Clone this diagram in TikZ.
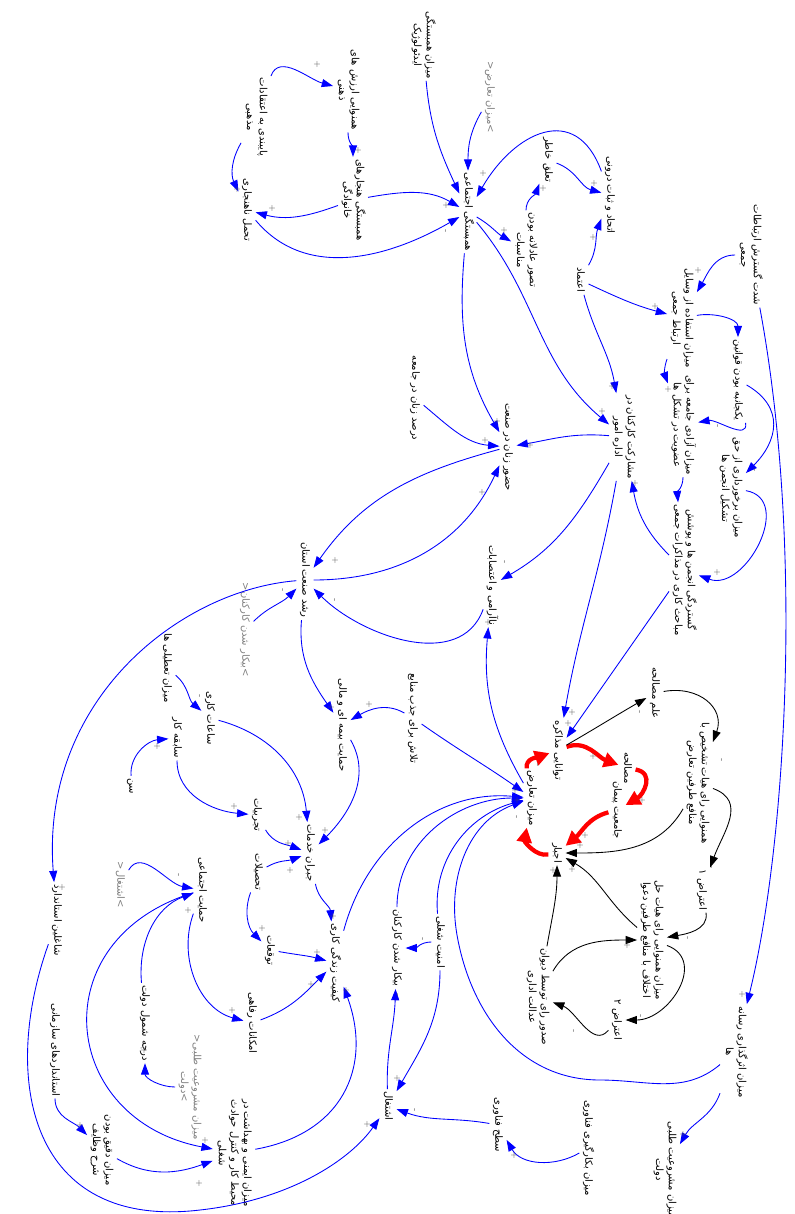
\documentclass[tikz,border=0pt]{standalone}
\usepackage{fontspec}
\usepackage{graphicx}
\usetikzlibrary{arrows.meta}
\newfontfamily\arabicfont[Script=Arabic]{DejaVu Sans}
\TeXXeTstate=1
\newcommand{\fl}[1]{\beginR #1\endR}
\newcommand{\vtxt}[1]{\rotatebox{-90}{\begin{tabular}{@{}c@{}}#1\end{tabular}}}
\newcommand{\ppl}[2]{\node[pol] (#1) at (#2) {+};}
\newcommand{\pmn}[2]{\node[pol] (#1) at (#2) {\rotatebox{90}{-}};}
\begin{document}
\begin{tikzpicture}[x=0.75pt,y=0.75pt,
  var/.style={inner sep=1.5pt,font=\arabicfont\fontsize{7.5}{9.5}\selectfont},
  shadow/.style={var,text=gray},
  pol/.style={inner sep=0pt,font=\fontsize{6}{6}\selectfont,text=black!70},
  lnk/.style={draw=blue,line width=0.65pt,-{Triangle[length=8.5pt,width=6pt]}},
  blk/.style={draw=black,line width=0.65pt,-{Triangle[length=8.5pt,width=6pt]}},
  rlnk/.style={draw=red,line width=3.2pt,-{Triangle[length=11pt,width=11pt]}}]
\useasboundingbox (0,0) rectangle (795,-1214);
% ---------- nodes ----------
\node[var] (ideo) at (423,-45) {\vtxt{\fl{میزان همبستگی}\\\fl{ایدئولوژیک}}};
\node[var] (zehni) at (348,-90) {\vtxt{\fl{همنوایی ارزش های}\\\fl{ذهنی}}};
\node[var] (mazhabi) at (256,-117) {\vtxt{\fl{پایبندی به اعتقادات}\\\fl{مذهبی}}};
\node[var] (khanevadegi) at (353,-200) {\vtxt{\fl{همبستگی هنجارهای}\\\fl{خانوادگی}}};
\node[var] (tahammol) at (247,-210) {\vtxt{\fl{تحمل ناهنجاری}}};
\node[var] (hambastegi) at (468,-212) {\vtxt{\fl{همبستگی اجتماعی}}};
\node[shadow] (tarazsh) at (490,-97) {\vtxt{<\fl{میزان تعارض}>}};
\node[var] (monasebat) at (526,-250) {\vtxt{\fl{تصور عادلانه بودن}\\\fl{مناسبات}}};
\node[var] (taalogh) at (548,-160) {\vtxt{\fl{تعلق خاطر}}};
\node[var] (ettehad) at (610,-195) {\vtxt{\fl{اتحاد و ثبات درونی}}};
\node[var] (etemad) at (580,-280) {\vtxt{\fl{اعتماد}}};
\node[var] (shedat) at (750,-255) {\vtxt{\fl{شدت گسترش ارتباطات}\\\fl{جمعی}}};
\node[var] (vasayel) at (682,-318) {\vtxt{\fl{میزان استفاده از وسایل}\\\fl{ارتباط جمعی}}};
\node[var] (yekjanebe) at (738,-380) {\vtxt{\fl{یکجانبه بودن قوانین}}};
\node[var] (azadi) at (683,-425) {\vtxt{\fl{میزان آزادی جامعه برای}\\\fl{عضویت در تشکل ها}}};
\node[var] (haq) at (731,-488) {\vtxt{\fl{میزان برخورداری از حق}\\\fl{تشکیل انجمن ها}}};
\node[var] (mosharekat) at (624,-437) {\vtxt{\fl{مشارکت کارکنان در}\\\fl{اداره امور}}};
\node[var] (gostardegi) at (684,-570) {\vtxt{\fl{گستردگی انجمن ها و پوشش}\\\fl{مباحث کاری در مذاکرات جمعی}}};
\node[var] (hozur) at (508,-447) {\vtxt{\fl{حضور زنان در صنعت}}};
\node[var] (darsad) at (415,-398) {\vtxt{\fl{درصد زنان در جامعه}}};
\node[var] (roshd) at (305,-580) {\vtxt{\fl{رشد صنعت استان}}};
\node[var] (naarami) at (492,-585) {\vtxt{\fl{ناآرامی و اعتصابات}}};
\node[shadow] (bikarsh) at (245,-630) {\vtxt{<\fl{بیکار شدن کارکنان}>}};
\node[var] (tatili) at (167,-668) {\vtxt{\fl{میزان تعطیلی ها}}};
\node[var] (saat) at (210,-718) {\vtxt{\fl{ساعات کاری}}};
\node[var] (sabeghe) at (177,-738) {\vtxt{\fl{سابقه کار}}};
\node[var] (sen) at (132,-786) {\vtxt{\fl{سن}}};
\node[var] (tajrobiat) at (257,-815) {\vtxt{\fl{تجربیات}}};
\node[var] (tahsilat) at (258,-872) {\vtxt{\fl{تحصیلات}}};
\node[var] (bime) at (342,-725) {\vtxt{\fl{حمایت بیمه ای و مالی}}};
\node[var] (talash) at (413,-718) {\vtxt{\fl{تلاش برای جذب منابع}}};
\node[var] (jobran) at (310,-853) {\vtxt{\fl{جبران خدمات}}};
\node[shadow] (eshteghalsh) at (120,-885) {\vtxt{<\fl{اشتغال}>}};
\node[var] (hemayat) at (202,-890) {\vtxt{\fl{حمایت اجتماعی}}};
\node[var] (tavaghoat) at (270,-950) {\vtxt{\fl{توقعات}}};
\node[var] (keyfiat) at (335,-963) {\vtxt{\fl{کیفیت زندگی کاری}}};
\node[var] (emkanat) at (252,-1023) {\vtxt{\fl{امکانات رفاهی}}};
\node[var] (shomul) at (145,-1023) {\vtxt{\fl{درجه شمول دولت}}};
\node[shadow] (mashrush) at (190,-1087) {\vtxt{<\fl{میزان مشروعیت طلبی}\\\fl{دولت}>}};
\node[var] (imeni) at (234,-1153) {\vtxt{\fl{میزان ایمنی و بهداشت در}\\\fl{محیط کار و کنترل حوادث}\\\fl{شغلی}}};
\node[var] (standards) at (55,-1050) {\vtxt{\fl{استانداردهای سازمانی}}};
\node[var] (daghigh) at (102,-1150) {\vtxt{\fl{میزان دقیق بودن}\\\fl{شرح وظایف}}};
\node[var] (shaghelin) at (57,-920) {\vtxt{\fl{شاغلین استاندارد}}};
\node[var] (bikar) at (397,-948) {\vtxt{\fl{بیکار شدن کارکنان}}};
\node[var] (amniat) at (440,-942) {\vtxt{\fl{امنیت شغلی}}};
\node[var] (eshteghal) at (388,-1106) {\vtxt{\fl{اشتغال}}};
\node[var] (sath) at (498,-1125) {\vtxt{\fl{سطح فناوری}}};
\node[var] (bekargiri) at (588,-1148) {\vtxt{\fl{میزان بکارگیری فناوری}}};
\node[var] (mashru) at (665,-1170) {\vtxt{\fl{میزان مشروعیت طلبی}\\\fl{دولت}}};
\node[var] (resane) at (735,-1052) {\vtxt{\fl{میزان اثرگذاری رسانه}\\\fl{ها}}};
\node[var] (divan) at (538,-997) {\vtxt{\fl{صدور رای توسط دیوان}\\\fl{عدالت اداری}}};
\node[var] (eteraz2) at (617,-1020) {\vtxt{\fl{اعتراض ۲}}};
\node[var] (halekhtelaf) at (652,-940) {\vtxt{\fl{میزان همنوایی رای هیات حل}\\\fl{اختلاف با منافع طرفین دعوا}}};
\node[var] (eteraz1) at (702,-890) {\vtxt{\fl{اعتراض ۱}}};
\node[var] (tashkhis) at (698,-783) {\vtxt{\fl{همنوایی رای هیات تشخیص با}\\\fl{منافع طرفین تعارض}}};
\node[var] (elm) at (655,-693) {\vtxt{\fl{علم مصالحه}}};
\node[var] (tavanayi) at (558,-750) {\vtxt{\fl{توانایی مذاکره}}};
\node[var] (mosalehe) at (627,-768) {\vtxt{\fl{مصالحه}}};
\node[var] (jameiat) at (617,-810) {\vtxt{\fl{جامعیت پیمان}}};
\node[var] (taraz) at (532,-798) {\vtxt{\fl{میزان تعارض}}};
\node[var] (ejbar) at (557,-853) {\vtxt{\fl{اجبار}}};
% ---------- blue links ----------
\draw[lnk] (ideo) to[out=275,in=115] (hambastegi);
\draw[lnk] (tarazsh) to[out=240,in=90] (hambastegi);
\draw[lnk] (ettehad) to[out=110,in=60,looseness=1.5] (hambastegi);
\draw[lnk] (zehni) to[out=270,in=90] (khanevadegi);
\draw[lnk] (mazhabi) to[out=70,in=165] (zehni);
\draw[lnk] (mazhabi) to[out=240,in=115] (tahammol);
\draw[lnk] (khanevadegi) to[out=200,in=345] (tahammol);
\draw[lnk] (khanevadegi) to[out=10,in=150] (hambastegi);
\draw[lnk] (tahammol) to[out=310,in=210] (hambastegi);
\draw[lnk] (hambastegi) to[out=-30,in=150] (monasebat);
\draw[lnk] (monasebat) to[out=90,in=250] (taalogh);
\draw[lnk] (taalogh) to[out=-20,in=165] (ettehad);
\draw[lnk] (etemad) to[out=60,in=250] (ettehad);
\draw[lnk] (etemad) to[out=-25,in=165] (vasayel);
\draw[lnk] (etemad) to[out=285,in=100] (mosharekat);
\draw[lnk] (shedat) to[out=180,in=60] (vasayel);
\draw[lnk] (shedat) .. controls (805,-550) and (785,-850) .. (resane);
\draw[lnk] (vasayel) to[out=10,in=90] (yekjanebe);
\draw[lnk] (vasayel) to[out=250,in=110] (azadi);
\draw[lnk] (yekjanebe) to[out=280,in=10] (azadi);
\draw[lnk] (yekjanebe) to[out=-30,in=45,looseness=1.3] (haq);
\draw[lnk] (azadi) to[out=270,in=95] (gostardegi);
\draw[lnk] (haq) to[out=-10,in=340,looseness=1.3] (gostardegi);
\draw[lnk] (gostardegi) to[out=135,in=280] (mosharekat);
\draw[lnk] (mosharekat) to[out=175,in=10] (hozur);
\draw[lnk] (hambastegi) to[out=-50,in=140] (mosharekat);
\draw[lnk] (hambastegi) to[out=265,in=120] (hozur);
\draw[lnk] (mosharekat) to[out=240,in=30] (naarami);
\draw[lnk] (mosharekat) to[out=260,in=80] (tavanayi);
\draw[lnk] (gostardegi) to[out=235,in=55] (tavanayi);
\draw[lnk] (darsad) to[out=-40,in=175] (hozur);
\draw[lnk] (hozur) to[out=195,in=55] (roshd);
\draw[lnk] (roshd) to[out=0,in=245] (hozur);
\draw[lnk] (naarami) to[out=250,in=315] (roshd);
\draw[lnk] (taraz) to[out=120,in=265] (naarami);
\draw[lnk] (roshd) .. controls (180,-590) and (40,-700) .. (shaghelin);
\draw[lnk] (roshd) to[out=265,in=125] (bime);
\draw[lnk] (bikarsh) to[out=45,in=225] (roshd);
\draw[lnk] (talash) to[out=150,in=30] (bime);
\draw[lnk] (talash) to[out=-35,in=145] (taraz);
\draw[lnk] (bime) to[out=300,in=45] (jobran);
\draw[lnk] (saat) to[out=-15,in=95] (jobran);
\draw[lnk] (tatili) to[out=-40,in=140] (saat);
\draw[lnk] (sen) to[out=95,in=185] (sabeghe);
\draw[lnk] (sabeghe) to[out=270,in=175] (tajrobiat);
\draw[lnk] (tajrobiat) to[out=300,in=160] (jobran);
\draw[lnk] (tahsilat) to[out=30,in=200] (jobran);
\draw[lnk] (tahsilat) to[out=250,in=135] (tavaghoat);
\draw[lnk] (tavaghoat) to[out=-10,in=165] (keyfiat);
\draw[lnk] (jobran) to[out=280,in=95] (keyfiat);
\draw[lnk] (keyfiat) to[out=75,in=175] (taraz);
\draw[lnk] (bikar) to[out=90,in=180] (taraz);
\draw[lnk] (amniat) to[out=95,in=195] (taraz);
\draw[lnk] (resane) to[out=220,in=0] (600,-1080) to[out=180,in=280] (457,-935) to[out=100,in=200] (taraz);
\draw[lnk] (eshteghalsh) to[out=60,in=170] (hemayat);
\draw[lnk] (shomul) to[out=95,in=200] (hemayat);
\draw[lnk] (hemayat) to[out=250,in=165] (emkanat);
\draw[lnk] (hemayat) .. controls (40,-940) and (60,-1120) .. (imeni);
\draw[lnk] (emkanat) to[out=20,in=225] (keyfiat);
\draw[lnk] (imeni) to[out=10,in=290,looseness=1.2] (keyfiat);
\draw[lnk] (standards) to[out=270,in=135] (daghigh);
\draw[lnk] (daghigh) to[out=-30,in=200] (imeni);
\draw[lnk] (mashrush) to[out=180,in=270] (shomul);
\draw[lnk] (shaghelin) .. controls (0,-1080) and (30,-1230) .. (200,-1210) .. controls (290,-1200) and (350,-1160) .. (eshteghal);
\draw[lnk] (amniat) to[out=180,in=0] (bikar);
\draw[lnk] (amniat) to[out=270,in=60] (eshteghal);
\draw[lnk] (eshteghal) to[out=92,in=268] (bikar);
\draw[lnk] (sath) to[out=170,in=-20] (eshteghal);
\draw[lnk] (bekargiri) to[out=210,in=300] (sath);
\draw[lnk] (resane) to[out=250,in=60] (mashru);
% ---------- red loop ----------
\draw[rlnk] (tavanayi) to[out=20,in=160] (mosalehe);
\draw[rlnk] (mosalehe) to[out=-10,in=30,looseness=1.4] (jameiat);
\draw[rlnk] (jameiat) to[out=195,in=40] (ejbar);
\draw[rlnk] (taraz) to[out=100,in=200] (tavanayi);
\draw[rlnk] (ejbar) to[out=190,in=260] (taraz);
% ---------- black links ----------
\draw[blk] (tavanayi) to[out=30,in=210] (elm);
\draw[blk] (elm) to[out=10,in=70,looseness=1.3] (tashkhis);
\draw[blk] (tashkhis) to[out=-20,in=70,looseness=1.2] (eteraz1);
\draw[blk] (tashkhis) to[out=240,in=0] (ejbar);
\draw[blk] (eteraz1) to[out=280,in=10] (halekhtelaf);
\draw[blk] (halekhtelaf) to[out=140,in=330] (ejbar);
\draw[blk] (halekhtelaf) to[out=-20,in=0,looseness=1.3] (eteraz2);
\draw[blk] (eteraz2) to[out=230,in=-20] (divan);
\draw[blk] (divan) to[out=60,in=180] (halekhtelaf);
\draw[blk] (divan) to[out=80,in=270] (ejbar);
% ---------- polarity ----------
\ppl{s1}{446,-205}
\ppl{s2}{483,-173}
\ppl{s3}{358,-150}
\ppl{s4}{317,-64}
\ppl{s5}{237,-189}
\ppl{s6}{272,-208}
\pmn{s7}{446,-231}
\ppl{s8}{504,-230}
\ppl{s9}{543,-188}
\ppl{s10}{594,-183}
\ppl{s11}{593,-237}
\ppl{s12}{698,-270}
\ppl{s13}{655,-306}
\ppl{s14}{612,-386}
\ppl{s15}{602,-411}
\ppl{s16}{530,-445}
\ppl{s17}{668,-389}
\pmn{s18}{718,-426}
\pmn{s19}{755,-470}
\ppl{s20}{635,-483}
\ppl{s21}{717,-572}
\ppl{s22}{497,-421}
\ppl{s23}{485,-440}
\ppl{s24}{482,-492}
\ppl{s25}{335,-560}
\pmn{s26}{283,-590}
\pmn{s27}{335,-600}
\pmn{s28}{505,-562}
\ppl{s29}{488,-622}
\ppl{s30}{331,-707}
\ppl{s31}{369,-704}
\ppl{s32}{299,-817}
\ppl{s33}{325,-830}
\ppl{s34}{288,-843}
\ppl{s35}{290,-870}
\ppl{s36}{515,-790}
\ppl{s37}{517,-800}
\pmn{s38}{517,-817}
\pmn{s39}{200,-696}
\ppl{s40}{157,-746}
\ppl{s41}{234,-806}
\pmn{s42}{179,-875}
\ppl{s43}{572,-712}
\ppl{s44}{568,-723}
\pmn{s45}{640,-712}
\ppl{s46}{593,-756}
\pmn{s47}{538,-765}
\pmn{s48}{722,-760}
\ppl{s49}{642,-800}
\ppl{s50}{585,-835}
\ppl{s51}{580,-845}
\ppl{s52}{553,-870}
\ppl{s53}{572,-869}
\pmn{s54}{712,-867}
\ppl{s55}{188,-910}
\ppl{s56}{262,-928}
\ppl{s57}{232,-1010}
\ppl{s58}{144,-1050}
\ppl{s59}{80,-1125}
\ppl{s60}{205,-1140}
\ppl{s61}{199,-1183}
\ppl{s62}{333,-916}
\ppl{s63}{317,-952}
\ppl{s64}{311,-984}
\ppl{s65}{346,-990}
\pmn{s66}{423,-939}
\pmn{s67}{398,-995}
\ppl{s68}{397,-1078}
\pmn{s69}{415,-1110}
\ppl{s70}{367,-1124}
\ppl{s71}{514,-1155}
\pmn{s72}{688,-938}
\ppl{s73}{627,-945}
\pmn{s74}{641,-1016}
\pmn{s75}{574,-1031}
\ppl{s76}{742,-994}
\ppl{s77}{683,-1134}
\ppl{s78}{62,-887}
\end{tikzpicture}
\end{document}
